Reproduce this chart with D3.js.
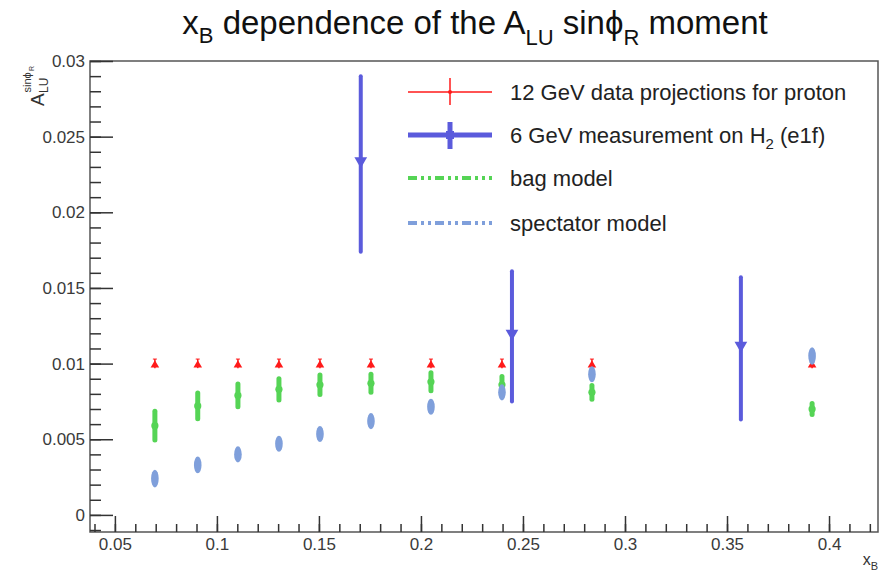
<!DOCTYPE html>
<html>
<head>
<meta charset="utf-8">
<script src="https://cdn.jsdelivr.net/npm/d3@7"></script>
<style>
  body { margin: 0; background: #fff; }
  svg { display: block; font-family: "Liberation Sans", Arial, sans-serif; }
</style>
</head>
<body>
<svg id="chart" width="889" height="576"></svg>
<script>
// x_B bins of the 12 GeV projections (model curves share them)
var xBins = [0.0696, 0.0906, 0.1103, 0.1304, 0.1505, 0.1755, 0.2049, 0.2397, 0.2838, 0.3917];

// 12 GeV data projections for proton
var projVal = [0.01, 0.01, 0.01, 0.01, 0.01, 0.01, 0.01, 0.01, 0.01, 0.01];
var projErr = [0.0003, 0.0003, 0.0003, 0.0003, 0.0003, 0.0003, 0.0003, 0.0003, 0.0003, 0.0003];

// bag model
var bagVal = [0.0059, 0.0072, 0.0079, 0.0083, 0.0086, 0.0087, 0.0088, 0.0086, 0.0081, 0.0070];
var bagErr = [0.00095, 0.00085, 0.00076, 0.0007, 0.00064, 0.0006, 0.0006, 0.00055, 0.00046, 0.00036];

// spectator model
var specVal = [0.0024, 0.0033, 0.0040, 0.0047, 0.00535, 0.0062, 0.00715, 0.0081, 0.0093, 0.0105];
var specErr = [0.00045, 0.00042, 0.0004, 0.0004, 0.0004, 0.0004, 0.0004, 0.0004, 0.0004, 0.00045];

// 6 GeV measurement on H2 (e1f)
var e1fX = [0.1705, 0.2446, 0.3568];
var e1fVal = [0.0232, 0.0118, 0.0110];
var e1fErr = [0.0058, 0.0043, 0.0047];

// axis ticks
var xTicks = [0.05, 0.1, 0.15, 0.2, 0.25, 0.3, 0.35, 0.4];
var yTicks = [0, 0.005, 0.01, 0.015, 0.02, 0.025, 0.03];

var legendLabels = ["12 GeV data projections for proton", "6 GeV measurement on H", "bag model", "spectator model"];

var colors = { proj: "#ff1a1a", e1f: "#5b5bdc", bag: "#55d455", spec: "#7f9fdb" };

var svg = d3.select("#chart");
svg.append("rect").attr("width", 889).attr("height", 576).attr("fill", "#fff");

var x = d3.scaleLinear().domain([0.0378, 0.424]).range([90, 878]);
var y = d3.scaleLinear().domain([-0.00113, 0.03]).range([532, 61]);

var axisColor = "#333";

// frame
svg.append("rect")
    .attr("x", x.range()[0]).attr("y", y.range()[1])
    .attr("width", x.range()[1] - x.range()[0])
    .attr("height", y.range()[0] - y.range()[1])
    .attr("fill", "none").attr("stroke", "#555").attr("stroke-width", 1.5);

// minor ticks
var xMinor = d3.range(0.04, 0.4201, 0.01);
var yMinor = d3.range(-0.001, 0.03001, 0.001);

svg.append("g").attr("transform", "translate(0," + y.range()[0] + ")")
    .call(d3.axisBottom(x).tickValues(xMinor).tickSize(-8).tickFormat(""))
    .call(function(g) { g.select(".domain").remove(); g.selectAll("line").attr("stroke", axisColor).attr("stroke-width", 1.5); });

svg.append("g").attr("transform", "translate(" + x.range()[0] + ",0)")
    .call(d3.axisLeft(y).tickValues(yMinor).tickSize(-11).tickFormat(""))
    .call(function(g) { g.select(".domain").remove(); g.selectAll("line").attr("stroke", axisColor).attr("stroke-width", 1.5); });

// major ticks + labels
svg.append("g").attr("transform", "translate(0," + y.range()[0] + ")")
    .call(d3.axisBottom(x).tickValues(xTicks).tickSize(-16).tickPadding(6).tickFormat(d3.format("~g")))
    .call(function(g) {
      g.select(".domain").remove();
      g.selectAll("line").attr("stroke", axisColor).attr("stroke-width", 1.5);
      g.selectAll("text").attr("font-size", 17).attr("fill", "#3a3a3a")
        .attr("font-family", "Liberation Sans, Arial, sans-serif");
    });

svg.append("g").attr("transform", "translate(" + x.range()[0] + ",0)")
    .call(d3.axisLeft(y).tickValues(yTicks).tickSize(-23).tickPadding(5).tickFormat(d3.format("~g")))
    .call(function(g) {
      g.select(".domain").remove();
      g.selectAll("line").attr("stroke", axisColor).attr("stroke-width", 1.5);
      g.selectAll("text").attr("font-size", 17).attr("fill", "#3a3a3a")
        .attr("font-family", "Liberation Sans, Arial, sans-serif");
    });

// ****************** data points ******************

function series(xs, vals, errs) {
  return xs.map(function(d, i) { return { x: d, v: vals[i], e: errs[i] }; });
}

var tri = d3.symbol().type(d3.symbolTriangle);

// 12 GeV projections: small error bar + triangle
var proj = svg.append("g").selectAll("g").data(series(xBins, projVal, projErr)).enter().append("g");
proj.append("line")
    .attr("x1", function(d) { return x(d.x); }).attr("x2", function(d) { return x(d.x); })
    .attr("y1", function(d) { return y(d.v - d.e); }).attr("y2", function(d) { return y(d.v + d.e); })
    .attr("stroke", colors.proj).attr("stroke-width", 1.5);
proj.append("line")
    .attr("x1", function(d) { return x(d.x) - 2; }).attr("x2", function(d) { return x(d.x) + 2; })
    .attr("y1", function(d) { return y(d.v + d.e); }).attr("y2", function(d) { return y(d.v + d.e); })
    .attr("stroke", colors.proj).attr("stroke-width", 1);
proj.append("path")
    .attr("d", tri.size(32))
    .attr("transform", function(d) { return "translate(" + x(d.x) + "," + (y(d.v) + 1.5) + ")"; })
    .attr("fill", colors.proj);

// bag model
var bag = svg.append("g").selectAll("g").data(series(xBins, bagVal, bagErr)).enter().append("g");
bag.append("line")
    .attr("x1", function(d) { return x(d.x); }).attr("x2", function(d) { return x(d.x); })
    .attr("y1", function(d) { return y(d.v - d.e); }).attr("y2", function(d) { return y(d.v + d.e); })
    .attr("stroke", colors.bag).attr("stroke-width", 5).attr("stroke-linecap", "round");
bag.append("circle")
    .attr("cx", function(d) { return x(d.x); }).attr("cy", function(d) { return y(d.v); })
    .attr("r", 3.6).attr("fill", colors.bag);

// spectator model
var spec = svg.append("g").selectAll("g").data(series(xBins, specVal, specErr)).enter().append("g");
spec.append("ellipse")
    .attr("cx", function(d) { return x(d.x); }).attr("cy", function(d) { return y(d.v); })
    .attr("rx", 3.8)
    .attr("ry", function(d) { return y(d.v - d.e) - y(d.v) + 2; })
    .attr("fill", colors.spec);

// 6 GeV measurement
var e1f = svg.append("g").selectAll("g").data(series(e1fX, e1fVal, e1fErr)).enter().append("g");
e1f.append("line")
    .attr("x1", function(d) { return x(d.x); }).attr("x2", function(d) { return x(d.x); })
    .attr("y1", function(d) { return y(d.v - d.e); }).attr("y2", function(d) { return y(d.v + d.e); })
    .attr("stroke", colors.e1f).attr("stroke-width", 4).attr("stroke-linecap", "round");
e1f.append("path")
    .attr("d", tri.size(70))
    .attr("transform", function(d) { return "translate(" + x(d.x) + "," + (y(d.v) - 3) + ") rotate(180)"; })
    .attr("fill", colors.e1f);

// ****************** legend ******************
var legend = svg.append("g");
var rowY = [92, 135, 178, 223];
var lx1 = 408, lx2 = 492, lmid = 450;

legend.append("line").attr("x1", lx1).attr("x2", lx2).attr("y1", rowY[0]).attr("y2", rowY[0])
    .attr("stroke", colors.proj).attr("stroke-width", 1.5);
legend.append("line").attr("x1", lmid).attr("x2", lmid).attr("y1", rowY[0] - 14).attr("y2", rowY[0] + 13)
    .attr("stroke", colors.proj).attr("stroke-width", 1.5);
legend.append("circle").attr("cx", lmid).attr("cy", rowY[0]).attr("r", 2).attr("fill", colors.proj);

legend.append("line").attr("x1", lx1).attr("x2", lx2).attr("y1", rowY[1]).attr("y2", rowY[1])
    .attr("stroke", colors.e1f).attr("stroke-width", 5);
legend.append("line").attr("x1", lmid).attr("x2", lmid).attr("y1", rowY[1] - 13).attr("y2", rowY[1] + 14)
    .attr("stroke", colors.e1f).attr("stroke-width", 5);
legend.append("rect").attr("x", lmid - 4).attr("y", rowY[1] - 4).attr("width", 8).attr("height", 8).attr("fill", colors.e1f);

legend.append("line").attr("x1", lx1).attr("x2", lx2).attr("y1", rowY[2]).attr("y2", rowY[2])
    .attr("stroke", colors.bag).attr("stroke-width", 4).attr("stroke-dasharray", "9,4,3,4,3,4");
legend.append("line").attr("x1", lx1).attr("x2", lx2).attr("y1", rowY[3]).attr("y2", rowY[3])
    .attr("stroke", colors.spec).attr("stroke-width", 4).attr("stroke-dasharray", "9,4,3,4,3,4");

rowY.forEach(function(ry, i) {
  var t = legend.append("text").attr("x", 510).attr("y", ry + 8)
      .attr("font-size", 22).attr("fill", "#222").text(legendLabels[i]);
  if (i == 1) {
    t.append("tspan").attr("font-size", 15).attr("dy", 6).text("2");
    t.append("tspan").attr("dy", -6).text(" (e1f)");
  }
});

// ****************** titles ******************
var title = svg.append("text").attr("x", 475).attr("y", 34)
    .attr("text-anchor", "middle").attr("font-size", 33).attr("fill", "#111");
title.append("tspan").text("x");
title.append("tspan").attr("font-size", 22).attr("dy", 9).text("B");
title.append("tspan").attr("dy", -9).text(" dependence of the A");
title.append("tspan").attr("font-size", 22).attr("dy", 11).text("LU");
title.append("tspan").attr("dy", -11).text(" sin\u03d5");
title.append("tspan").attr("font-size", 22).attr("dy", 11).text("R");
title.append("tspan").attr("dy", -11).text(" moment");

// x axis label
var xl = svg.append("text").attr("x", 878).attr("y", 565).attr("text-anchor", "end")
    .attr("font-size", 16).attr("fill", "#333");
xl.append("tspan").text("x");
xl.append("tspan").attr("font-size", 11).attr("dy", 5).text("B");

// y axis label (rotated)
var yl = svg.append("g").attr("transform", "translate(44,106) rotate(-90)").attr("fill", "#333");
yl.append("text").attr("x", 0).attr("y", 0).attr("font-size", 19).text("A");
yl.append("text").attr("x", 13).attr("y", 4).attr("font-size", 12).text("LU");
yl.append("text").attr("x", 13.5).attr("y", -13).attr("font-size", 11).text("sin\u03d5");
yl.append("text").attr("x", 35).attr("y", -10).attr("font-size", 7).text("R");
</script>
</body>
</html>
